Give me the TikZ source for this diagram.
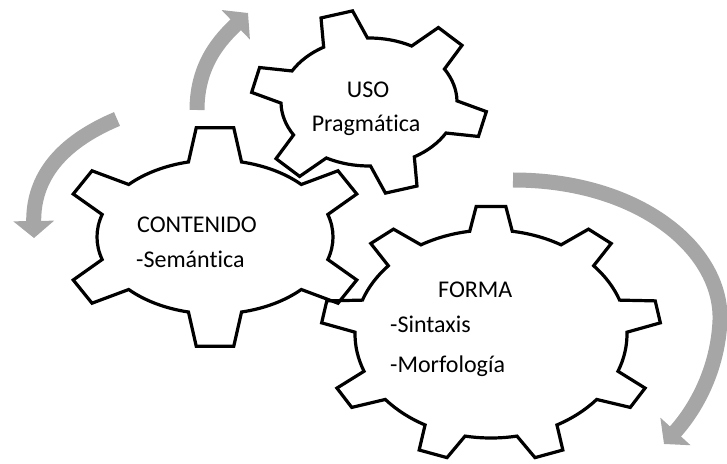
\documentclass[tikz,border=0pt]{standalone}
\usepackage{fontspec}
\setmainfont{Carlito}[Ligatures=NoCommon]
\usetikzlibrary{calc}
\usetikzlibrary{arrows.meta}
\definecolor{arrowgray}{HTML}{A6A6A6}
\tikzset{
  gear/.style={draw=black, line width=3.2pt, line join=miter},
  turn/.style={draw=arrowgray, line width=15pt, -{Triangle[width=40pt,length=17pt]}},
  gtext/.style={font=\fontsize{24}{28}\selectfont, inner sep=0pt}
}
% center, rx, ry, tip rx, tip ry, first tooth, teeth, base half, tip half
\newcommand{\gear}[9]{
  \pgfmathsetmacro{\gstep}{360/#7}
  \draw[gear, shift={(#1)}] ({#6-#8}:#2 and #3)
    \foreach \k in {1,...,#7}{
      -- ({#6+(\k-1)*\gstep-#9}:#4 and #5)
      -- ({#6+(\k-1)*\gstep+#9}:#4 and #5)
      -- ({#6+(\k-1)*\gstep+#8}:#2 and #3)
      arc[start angle={#6+(\k-1)*\gstep+#8}, end angle={#6+\k*\gstep-#8}, x radius=#2, y radius=#3]
    } -- cycle;
}
\begin{document}
\begin{tikzpicture}[x=1pt, y=1pt]
\useasboundingbox (0,0) rectangle (727,463);
\coordinate (up start) at (197,353);
\coordinate (up end) at (248,450);
\coordinate (left start) at (117,344);
\coordinate (left end) at (34,225);
\coordinate (right start) at (513,283);
\coordinate (right mid) at (720,143);
\coordinate (right end) at (664,19);
\draw[turn] (up start) .. controls (197,400) and (222,425) .. (up end);
\draw[turn] (left start) .. controls (60,320) and (33,285) .. (left end);
\draw[turn] (right start) .. controls (640,283) and (722,213) .. (right mid)
  .. controls (718,93) and (695,53) .. (right end);
\gear{491,129}{136}{104}{170}{128}{90}{9}{9}{5}
\gear{215,226}{118}{77}{154}{110}{30}{6}{13}{7}
\gear{369,361}{88}{64}{118}{92}{46}{6}{15}{8}
\node[gtext, anchor=base] (uso) at (368,365) {USO};
\node[gtext, anchor=base] (prag) at (366,331) {Pragmática};
\node[gtext, anchor=base west] (cont) at (137,230) {CONTENIDO};
\node[gtext, anchor=base west] (sem) at (136,195) {-Semántica};
\node[gtext, anchor=base west] (forma) at (438,165) {FORMA};
\node[gtext, anchor=base west] (sint) at (390,130) {-Sintaxis};
\node[gtext, anchor=base west] (morf) at (390,91) {-Morfología};
\end{tikzpicture}
\end{document}
